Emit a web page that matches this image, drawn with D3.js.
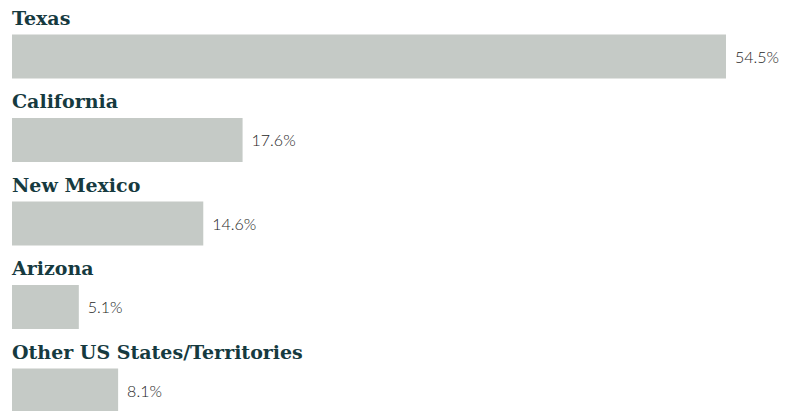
<!DOCTYPE html>
<html>
<head>
<meta charset="utf-8">
<script src="https://cdn.jsdelivr.net/npm/d3@7"></script>
<style>
  html, body { margin: 0; padding: 0; background: #ffffff; }
  svg { display: block; }
</style>
</head>
<body>
<svg id="chart" width="790" height="411"></svg>
<script>
// Share by state / territory
const categories = ["Texas", "California", "New Mexico", "Arizona", "Other US States/Territories"];
const values = [54.5, 17.6, 14.6, 5.1, 8.1];
const valueLabels = ["54.5%", "17.6%", "14.6%", "5.1%", "8.1%"];

const svg = d3.select("#chart");
const left = 12;
const rowStep = 83.5;
const firstBarTop = 34.5;
const barH = 44;

const x = d3.scaleLinear().domain([0, 54.5]).range([0, 714]);
const y = d3.scaleLinear().domain([0, 1]).range([firstBarTop, firstBarTop + rowStep]);

const rows = svg.selectAll("g.row")
  .data(categories.map((c, i) => ({ name: c, value: values[i], label: valueLabels[i], i })))
  .join("g")
  .attr("class", "row");

rows.append("text")
  .attr("x", left)
  .attr("y", d => y(d.i) - 10)
  .attr("font-family", "'DejaVu Serif', serif")
  .attr("font-weight", "bold")
  .attr("font-size", 19)
  .attr("fill", "#163a3f")
  .text(d => d.name);

rows.append("rect")
  .attr("x", left)
  .attr("y", d => y(d.i))
  .attr("width", d => x(d.value))
  .attr("height", barH)
  .attr("fill", "#c5cac6");

rows.append("text")
  .attr("x", d => left + x(d.value) + 9)
  .attr("y", d => y(d.i) + barH / 2 + 6)
  .attr("font-family", "Lato, sans-serif")
  .attr("font-weight", 300)
  .attr("font-size", 16)
  .attr("fill", "#1e1e1e")
  .text(d => d.label);
</script>
</body>
</html>
